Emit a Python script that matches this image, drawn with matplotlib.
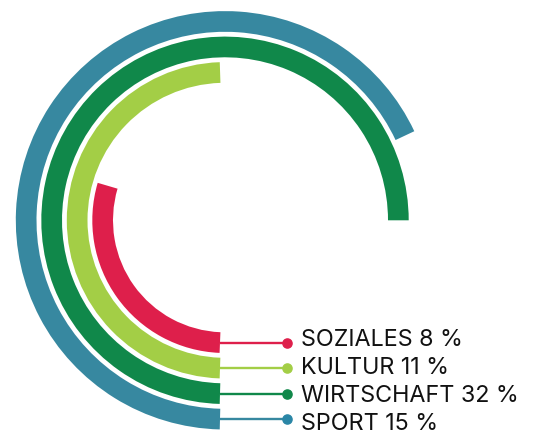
import numpy as np
import matplotlib.pyplot as plt
from matplotlib.patches import Wedge

plt.rcParams['font.family'] = ['Inter', 'DejaVu Sans']

# rings from inside to outside
categories = ["SOZIALES", "KULTUR", "WIRTSCHAFT", "SPORT"]
shares = [8, 11, 32, 15]
# sweep of each arc in degrees, clockwise from 6 o'clock
arc_degrees = [106.4, 178.1, 270, 244.8]
colors = ["#de1f4b", "#a3ce46", "#10884a", "#3788a0"]
dot_colors = ["#de1f4b", "#a3ce46", "#10884a", "#2a86a6"]

W, H = 535, 430
fig = plt.figure(figsize=(W / 100, H / 100), dpi=100)
ax = fig.add_axes([0, 0, 1, 1])
ax.set_xlim(0, W)
ax.set_ylim(0, H)
ax.set_aspect("equal")
ax.axis("off")

cx, cy = 225, H - 220.3
cut_x = 220          # arcs start at a straight cut just left of the centre
r_inner0 = 112.0
band = 20.7
step = 25.5

for i, (name, share, sweep, col, dcol) in enumerate(
        zip(categories, shares, arc_degrees, colors, dot_colors)):
    r_in = r_inner0 + i * step
    r_out = r_in + band
    r_mid = r_in + band / 2
    start = 270 - np.degrees(np.arcsin((cx - cut_x) / r_mid))
    ax.add_patch(Wedge((cx, cy), r_out, 270 - sweep, start, width=band,
                       facecolor=col, edgecolor="none"))
    # connector to the label
    y = cy - r_mid
    ax.plot([cut_x, 287], [y, y], color=col, lw=1.7, solid_capstyle="butt")
    ax.plot(287, y, "o", color=dcol, markersize=6.6)
    ax.text(301, H - (346 + i * 28), f"{name} {share} %", fontsize=16.8,
            color="#111111", va="baseline", ha="left")

fig.savefig("out.png", dpi=100)
